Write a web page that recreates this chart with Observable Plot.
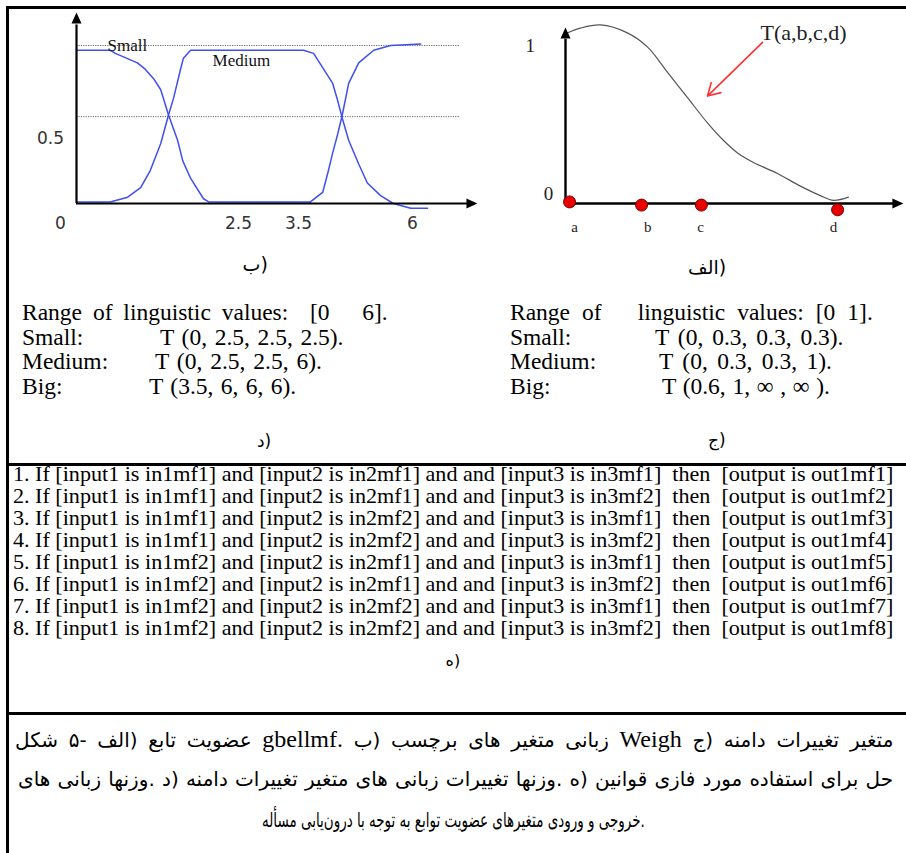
<!DOCTYPE html>
<html>
<head>
<meta charset="utf-8">
<script src="https://cdn.jsdelivr.net/npm/d3@7"></script>
<script src="https://cdn.jsdelivr.net/npm/@observablehq/plot@0.6"></script>
<style>
html,body{margin:0;padding:0;background:#fff;}
#page{position:relative;width:906px;height:853px;overflow:hidden;background:#fff;color:#000;font-family:"Liberation Serif","Times New Roman",serif;}
#page svg{position:absolute;left:0;top:0;}
.ln{position:absolute;background:#000;}
.t{position:absolute;white-space:pre;transform-origin:0 50%;}
.fa{font-family:"DejaVu Sans",sans-serif;}
.iso{unicode-bidi:isolate;}
</style>
</head>
<body>
<div id="page"></div>
<script>
// ---------- Chart (ب): linguistic labels of Weigh ----------
const xTicksB = [0, 2.5, 3.5, 6];
const xTickLabelsB = ["0", "2.5", "3.5", "6"];
const yTicksB = [0.5];
const yTickLabelsB = ["0.5"];
const gridB = [1, 0.55];
const smallX = [0, 0.52, 0.60, 0.94, 1.06, 1.19, 1.30, 1.42, 1.56, 1.64, 1.76, 1.96, 2.04, 3.76];
const smallY = [0.97, 0.97, 0.95, 0.89, 0.85, 0.79, 0.72, 0.56, 0.40, 0.27, 0.16, 0.03, 0.01, 0.01];
const mediumX = [0, 0.52, 0.79, 0.99, 1.14, 1.30, 1.42, 1.50, 1.60, 1.65, 1.76, 1.87, 3.61, 3.83, 4.03, 4.25, 4.36, 4.46, 4.60, 4.82, 5.01, 5.30, 5.58, 5.96, 6.33];
const mediumY = [0.01, 0.01, 0.04, 0.10, 0.21, 0.38, 0.56, 0.67, 0.84, 0.92, 0.97, 0.97, 0.97, 0.95, 0.86, 0.76, 0.65, 0.54, 0.40, 0.25, 0.13, 0.05, 0.0, -0.03, -0.03];
const bigX = [3.76, 4.03, 4.14, 4.25, 4.36, 4.46, 4.60, 4.82, 5.15, 5.52, 6.18];
const bigY = [0.01, 0.07, 0.19, 0.32, 0.44, 0.56, 0.76, 0.89, 0.97, 1.0, 1.01];
const seriesLabelPosB = [{name: "Small", x: 0.48, y: 1.0}, {name: "Medium", x: 2.10, y: 0.905}];
const axisB = {xEnd: 7.22, xArrow: 7.27, yEnd: 1.13, yArrow: 1.165, gridEnd: 7.05};

// ---------- Chart (الف): gbellmf membership function ----------
const curveAX = [0.06, 0.44, 1.04, 1.83, 2.43, 3.02, 3.61, 4.20, 4.67, 5.09, 5.56, 6.27, 6.95, 7.54, 7.93, 8.37];
const curveAY = [1.08, 1.11, 1.13, 1.08, 0.99, 0.83, 0.67, 0.51, 0.40, 0.32, 0.26, 0.19, 0.11, 0.05, 0.02, 0.04];
const pointNames = ["a", "b", "c", "d"];
const pointX = [0.12, 2.25, 4.02, 8.05];
const pointY = [0.01, -0.01, -0.01, -0.04];
const pointLabelX = [0.27, 2.43, 4.0, 7.93];
const yTickLabelsA = ["1", "0"];
const yTickLabelXA = [-1.04, -0.5];
const yTickLabelYA = [1, 0.06];
const curveLabelA = {text: "T(a,b,c,d)", x: 5.77, y: 1.08};
const pointerA = {x1: 5.83, y1: 1.02, x2: 4.20, y2: 0.68};
const axisA = {xEnd: 9.75, xArrow: 9.79, yEnd: 1.04, yArrow: 1.07};

// ---------- Text blocks ----------
const rangeB = "Range of linguistic values:  [0   6].";
const setNames = ["Small:", "Medium:", "Big:"];
const setValuesB = ["T (0, 2.5, 2.5, 2.5).", "T (0, 2.5, 2.5, 6).", "T (3.5, 6, 6, 6)."];
const rangeA = "Range of   linguistic values: [0 1].";
const setValuesA = ["T (0, 0.3, 0.3, 0.3).", "T (0, 0.3, 0.3, 1).", "T (0.6, 1, \u221E , \u221E )."];
const rules = [
  "1. If [input1 is in1mf1] and [input2 is in2mf1] and and [input3 is in3mf1]  then  [output is out1mf1]",
  "2. If [input1 is in1mf1] and [input2 is in2mf1] and and [input3 is in3mf2]  then  [output is out1mf2]",
  "3. If [input1 is in1mf1] and [input2 is in2mf2] and and [input3 is in3mf1]  then  [output is out1mf3]",
  "4. If [input1 is in1mf1] and [input2 is in2mf2] and and [input3 is in3mf2]  then  [output is out1mf4]",
  "5. If [input1 is in1mf2] and [input2 is in2mf1] and and [input3 is in3mf1]  then  [output is out1mf5]",
  "6. If [input1 is in1mf2] and [input2 is in2mf1] and and [input3 is in3mf2]  then  [output is out1mf6]",
  "7. If [input1 is in1mf2] and [input2 is in2mf2] and and [input3 is in3mf1]  then  [output is out1mf7]",
  "8. If [input1 is in1mf2] and [input2 is in2mf2] and and [input3 is in3mf2]  then  [output is out1mf8]"
];
const panelLabels = {b: "ب)", a: "الف)", d: "د)", c: "ج)", e: "ه)"};
const captionLines = [
  ["شکل", "۵-", "الف)", "تابع", "عضویت", "gbellmf.", "ب)", "برچسب", "های", "متغیر", "زبانی", "Weigh", "ج)", "دامنه", "تغییرات", "متغیر"],
  ["های", "زبانی", "وزنها.", "د)", "دامنه", "تغییرات", "متغیر", "های", "زبانی", "تغییرات", "وزنها.", "ه)", "قوانین", "فازی", "مورد", "استفاده", "برای", "حل"],
  ["مسأله", "درون‌یابی", "با", "توجه", "به", "توابع", "عضویت", "متغیرهای", "ورودی", "و", "خروجی."]
];

// ---------- build ----------
const page = document.getElementById("page");
const serif = "Liberation Serif, Times New Roman, serif";
const sans = "DejaVu Sans, Verdana, sans-serif";

const triUp = {draw(c) { c.moveTo(0, -7); c.lineTo(5, 4); c.lineTo(-5, 4); c.closePath(); }};
const triRight = {draw(c) { c.moveTo(7, 0); c.lineTo(-4, 5); c.lineTo(-4, -5); c.closePath(); }};

const tableB = [
  ...smallX.map((x, i) => ({s: "Small", x, y: smallY[i]})),
  ...mediumX.map((x, i) => ({s: "Medium", x, y: mediumY[i]})),
  ...bigX.map((x, i) => ({s: "Big", x, y: bigY[i]}))
];

const chartB = Plot.plot({
  width: 906, height: 290,
  style: {background: "transparent", overflow: "visible", fontFamily: serif},
  x: {type: "linear", domain: xTicksB, range: [76, 238, 298, 412], axis: null},
  y: {type: "linear", domain: [0, 1], range: [203, 45], axis: null},
  marks: [
    Plot.ruleY(gridB, {x1: 0, x2: axisB.gridEnd, stroke: "#666", strokeWidth: 1, strokeDasharray: "1.2,1.2"}),
    Plot.line(tableB, {x: "x", y: "y", z: "s", stroke: "#3f4ff0", strokeWidth: 1.5}),
    Plot.ruleX([0], {y1: 0, y2: axisB.yEnd, stroke: "#000", strokeWidth: 2.2}),
    Plot.ruleY([0], {x1: 0, x2: axisB.xEnd, stroke: "#000", strokeWidth: 2.2}),
    Plot.dot([0], {x: 0, y: axisB.yArrow, symbol: triUp, fill: "#000", stroke: null}),
    Plot.dot([0], {x: axisB.xArrow, y: 0, symbol: triRight, fill: "#000", stroke: null}),
    Plot.text(xTicksB.slice(0, 1), {x: d => d, y: 0, text: (d, i) => xTickLabelsB[i], dy: 20, dx: -16, fontSize: 17, fontFamily: sans, fill: "#333"}),
    Plot.text(xTicksB.slice(1), {x: d => d, y: 0, text: (d, i) => xTickLabelsB[i + 1], dy: 20, fontSize: 17, fontFamily: sans, fill: "#333"}),
    Plot.text(yTicksB, {x: 0, y: d => d, text: (d, i) => yTickLabelsB[i], dx: -26, dy: 14, fontSize: 17, fontFamily: sans, fill: "#333"}),
    Plot.text(seriesLabelPosB, {x: "x", y: "y", text: "name", textAnchor: "start", fontSize: 17, fontFamily: serif, fill: "#111"})
  ]
});
page.appendChild(chartB);

const tableA = curveAX.map((x, i) => ({x, y: curveAY[i]}));
const pointsA = pointNames.map((n, i) => ({n, x: pointX[i], y: pointY[i], lx: pointLabelX[i]}));
const yLabA = yTickLabelsA.map((t, i) => ({t, x: yTickLabelXA[i], y: yTickLabelYA[i]}));

const chartA = Plot.plot({
  width: 906, height: 290,
  style: {background: "transparent", overflow: "visible", fontFamily: serif},
  x: {type: "linear", domain: [0, 10], range: [565, 903], axis: null},
  y: {type: "linear", domain: [0, 1], range: [203, 45], axis: null},
  marks: [
    Plot.line(tableA, {x: "x", y: "y", curve: "catmull-rom", stroke: "#555", strokeWidth: 1.2}),
    Plot.ruleX([0], {y1: 0, y2: axisA.yEnd, stroke: "#000", strokeWidth: 2.4}),
    Plot.ruleY([0], {x1: 0, x2: axisA.xEnd, stroke: "#000", strokeWidth: 2.4}),
    Plot.dot([0], {x: 0, y: axisA.yArrow, symbol: triUp, fill: "#000", stroke: null}),
    Plot.dot([0], {x: axisA.xArrow, y: 0, symbol: triRight, fill: "#000", stroke: null}),
    Plot.dot(pointsA, {x: "x", y: "y", r: 6, fill: "#e80000", stroke: "#7a0000", strokeWidth: 1}),
    Plot.text(pointsA, {x: "lx", y: -0.15, text: "n", fontSize: 15, fontFamily: serif, fill: "#222"}),
    Plot.text(yLabA, {x: "x", y: "y", text: "t", fontSize: 19, fontFamily: serif, fill: "#222"}),
    Plot.text([curveLabelA], {x: "x", y: "y", text: "text", textAnchor: "start", fontSize: 22, fontFamily: serif, fill: "#222"}),
    Plot.arrow([pointerA], {x1: "x1", y1: "y1", x2: "x2", y2: "y2", stroke: "#ff3333", strokeWidth: 1.6, headLength: 13, bend: 0})
  ]
});
page.appendChild(chartA);

// lines of the frame
function line(l, t, w, h) {
  const d = document.createElement("div");
  d.className = "ln";
  Object.assign(d.style, {left: l + "px", top: t + "px", width: w + "px", height: h + "px"});
  page.appendChild(d);
}
line(6, 6, 900, 3);
line(6, 6, 3, 847);
line(6, 463, 900, 3);
line(6, 712, 900, 3);

// text helper: (x, y) = left (or middle) of the text's centre line
function txt(content, x, y, o = {}) {
  const d = document.createElement("div");
  d.className = "t" + (o.fa ? " fa" : "");
  d.style.left = x + "px";
  d.style.top = y + "px";
  const size = o.size || 23.5;
  d.style.fontSize = size + "px";
  d.style.lineHeight = (o.lh || Math.round(size)) + "px";
  d.textContent = content;
  page.appendChild(d);
  let w = d.offsetWidth;
  const h = d.offsetHeight;
  if (o.fit) {
    const n = (content.match(/ /g) || []).length;
    if (n && o.fit > w) { d.style.wordSpacing = ((o.fit - w) / n) + "px"; w = d.offsetWidth; }
  }
  const sx = o.width ? o.width / w : 1;
  const tx = o.anchor === "middle" ? -w * sx / 2 : 0;
  d.style.transform = `translate(${tx}px, ${-h / 2}px) scaleX(${sx})`;
  return d;
}

// panel labels
txt(panelLabels.b, 255, 264, {fa: true, size: 19, anchor: "middle"});
txt(panelLabels.a, 707, 267, {fa: true, size: 19, anchor: "middle"});

// blocks
const rowY = [312, 336.5, 361, 385.5];
const valXB = [160, 155, 149], valEndB = [343, 322, 296];
const valXA = [655, 659, 662], valEndA = [843, 832, 830];
txt(rangeB, 22, rowY[0], {fit: 366, lh: 22});
txt(rangeA, 510, rowY[0], {fit: 363, lh: 22});
setNames.forEach((n, i) => {
  txt(n, 22, rowY[i + 1], {lh: 22});
  txt(setValuesB[i], valXB[i], rowY[i + 1], {lh: 22, fit: valEndB[i] - valXB[i]});
  txt(n, 510, rowY[i + 1], {lh: 22});
  txt(setValuesA[i], valXA[i], rowY[i + 1], {lh: 22, fit: valEndA[i] - valXA[i]});
});
txt(panelLabels.d, 264, 441, {fa: true, size: 17, anchor: "middle"});
txt(panelLabels.c, 717, 440, {fa: true, size: 17, anchor: "middle"});

// rules
rules.forEach((r, i) => txt(r, 13, 474 + 22 * i, {size: 21.5, lh: 20, width: 880}));
txt(panelLabels.e, 453, 661, {fa: true, size: 16, anchor: "middle"});

// caption
const capY = [739, 779, 820];
const capLeft = [15, 18, 262], capWidth = [878, 875, 383];
captionLines.forEach((toks, i) => {
  const d = document.createElement("div");
  d.className = "fa";
  Object.assign(d.style, {
    position: "absolute", left: capLeft[i] + "px", top: capY[i] + "px",
    lineHeight: "30px", fontSize: "20px", direction: "ltr", whiteSpace: "nowrap",
    transformOrigin: "0 50%"
  });
  toks.forEach((tk, j) => {
    const s = document.createElement("span");
    s.className = "iso";
    s.textContent = tk;
    if (/^[A-Za-z]/.test(tk)) { s.style.fontFamily = serif; s.style.fontSize = "24px"; }
    d.appendChild(s);
    if (j < toks.length - 1) d.appendChild(document.createTextNode(" "));
  });
  page.appendChild(d);
  const w = d.offsetWidth, h = d.offsetHeight;
  let sx = 1;
  if (w < capWidth[i]) d.style.wordSpacing = ((capWidth[i] - w) / (toks.length - 1)) + "px";
  else sx = capWidth[i] / w;
  d.style.transform = `translateY(${-h / 2}px) scaleX(${sx})`;
});
</script>
</body>
</html>
